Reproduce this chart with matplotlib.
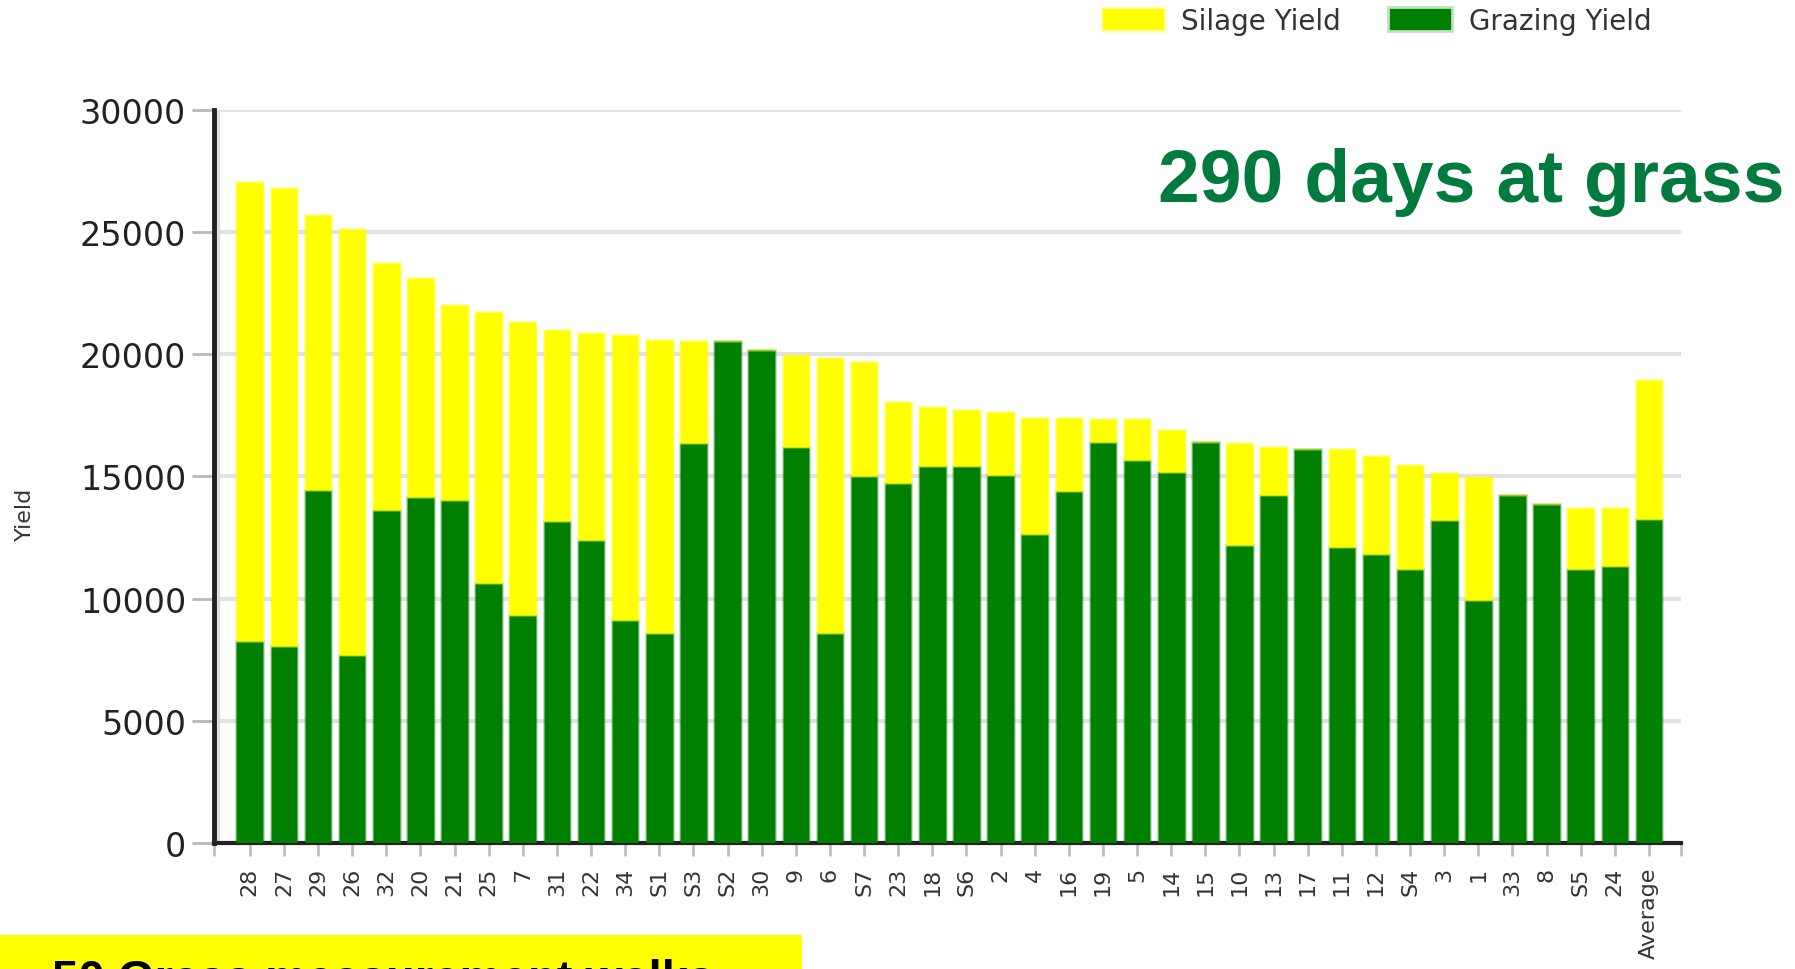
import matplotlib.pyplot as plt
import numpy as np

# paddock names, in chart order
paddocks = ["28", "27", "29", "26", "32", "20", "21", "25", "7", "31", "22", "34",
            "S1", "S3", "S2", "30", "9", "6", "S7", "23", "18", "S6", "2", "4",
            "16", "19", "5", "14", "15", "10", "13", "17", "11", "12", "S4", "3",
            "1", "33", "8", "S5", "24", "Average"]

grazing = [8250, 8060, 14440, 7690, 13640, 14160, 14020, 10640, 9330, 13170, 12420, 9140,
           8580, 16360, 20530, 20160, 16220, 8580, 15000, 14720, 15420, 15420, 15050, 12660,
           14390, 16410, 15660, 15190, 16410, 12190, 14250, 16130, 12100, 11810, 11200, 13220,
           9940, 14250, 13880, 11200, 11350, 13270]

total = [27050, 26820, 25690, 25130, 23720, 23110, 22030, 21750, 21330, 21000, 20860, 20770,
         20580, 20530, 20530, 20160, 19970, 19830, 19690, 18050, 17860, 17720, 17630, 17390,
         17390, 17350, 17350, 16920, 16410, 16360, 16220, 16130, 16130, 15850, 15470, 15140,
         14960, 14250, 13880, 13690, 13690, 18940]

silage = [t - g for t, g in zip(total, grazing)]

yticks = [0, 5000, 10000, 15000, 20000, 25000, 30000]

fig = plt.figure(figsize=(17.95, 9.7), dpi=100)
ax = fig.add_axes([0.1192, 0.1299, 0.8175, 0.7557])

x = np.arange(len(paddocks))
ax.bar(x, grazing, width=0.78, color="#008000", edgecolor=(0, 0.5, 0, 0.25),
       linewidth=2, zorder=3)
ax.bar(x, silage, bottom=grazing, width=0.78, color="#ffff00",
       edgecolor=(1, 1, 0, 0.35), linewidth=2, zorder=3)

ax.set_xlim(-1.05, len(paddocks) - 0.05)
ax.set_ylim(0, 30000)
ax.set_yticks(yticks)
ax.set_yticklabels([str(v) for v in yticks], fontsize=24, color="#222222")
ax.set_xticks(x)
ax.set_xticklabels(paddocks, rotation=90, fontsize=16, color="#333333")
ax.set_xticks([-1.05, len(paddocks) - 0.05], minor=True)
ax.tick_params(axis="x", which="both", length=9, width=2, color="#c0c0c0", pad=8)
ax.tick_params(axis="y", length=16, width=2, color="#b8b8b8", pad=4)

ax.yaxis.grid(True, color="#e2e2e2", linewidth=3, zorder=0)
ax.set_axisbelow(True)
for s in ["top", "right"]:
    ax.spines[s].set_visible(False)
ax.spines["left"].set_linewidth(3.5)
ax.spines["left"].set_color("#222222")
ax.spines["bottom"].set_linewidth(3)
ax.spines["bottom"].set_color("#222222")
ax.axvline(-0.93, color="#dddddd", linewidth=3, zorder=1)

fig.text(0.014, 0.47, "Yield", rotation=90, fontsize=16, color="#333333",
         ha="center", va="center")

# legend
handles = [plt.Rectangle((0, 0), 1, 1, facecolor="#ffff00", edgecolor="#ffffc0", linewidth=2),
           plt.Rectangle((0, 0), 1, 1, facecolor="#008000", edgecolor="#c0e0c0", linewidth=2)]
fig.legend(handles, ["Silage Yield", "Grazing Yield"], loc="upper right",
           bbox_to_anchor=(0.934, 1.018), ncol=2, frameon=False, fontsize=20,
           handlelength=2.3, handleheight=0.95, columnspacing=1.7, handletextpad=0.6,
           labelcolor="#333333")

fig.text(0.645, 0.792, "290 days at grass", fontsize=54, fontweight="bold",
         color="#007a3d", family="Liberation Sans", ha="left", va="baseline")

# yellow box bottom left
fig.patches.append(plt.Rectangle((0, 0), 0.447, 0.035, transform=fig.transFigure,
                                 facecolor="#ffff00", edgecolor="none"))
fig.text(0.029, -0.024, "50 Grass measurement walks", fontsize=34, fontweight="bold",
         color="black", family="Liberation Sans", ha="left", va="baseline")

plt.savefig("out.png", dpi=100)
